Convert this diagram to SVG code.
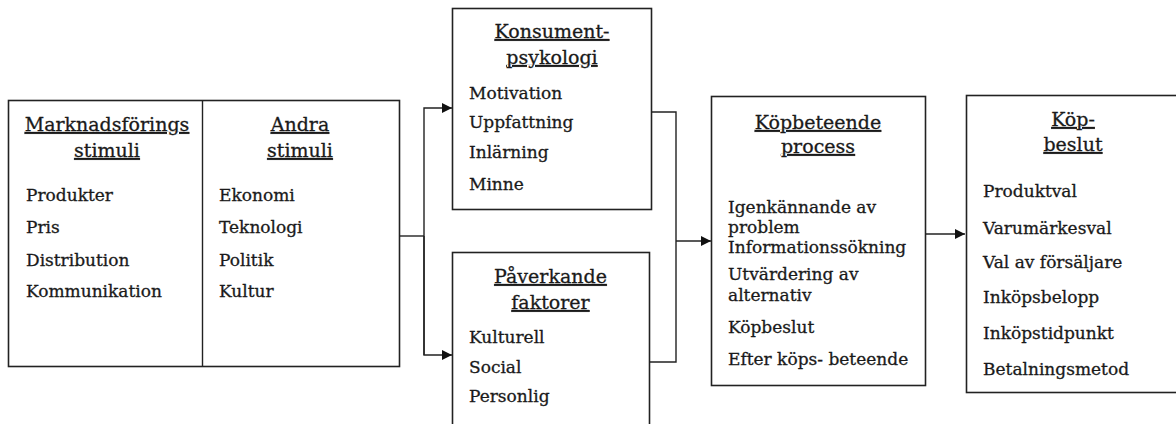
<svg xmlns="http://www.w3.org/2000/svg" width="1176" height="424" viewBox="0 0 1176 424">
<defs>
<style>
.box{fill:#fff;stroke:#222;stroke-width:1.6}
.ln{fill:none;stroke:#222;stroke-width:1.4}
text{font-family:"DejaVu Serif","Liberation Serif",serif;font-size:17px;fill:#1a1a1a;stroke:#1a1a1a;stroke-width:0.3}
.t{text-anchor:middle;text-decoration:underline;font-size:19px}
</style>
<marker id="ah" viewBox="0 0 10 10" refX="10" refY="5" markerWidth="10" markerHeight="10" markerUnits="userSpaceOnUse" orient="auto">
<path d="M0,0 L10,5 L0,10 z" fill="#111"/>
</marker>
</defs>
<rect width="1176" height="424" fill="#fff"/>
<g id="stimuli">
<rect class="box" x="8.5" y="100.5" width="391" height="266"/>
<line class="ln" x1="202.5" y1="100.5" x2="202.5" y2="366.5"/>
<text class="t" x="107" y="131">Marknadsförings</text>
<text class="t" x="107" y="157">stimuli</text>
<text x="26" y="201">Produkter</text>
<text x="26" y="233">Pris</text>
<text x="26" y="266">Distribution</text>
<text x="26" y="297">Kommunikation</text>
<text class="t" x="300" y="131">Andra</text>
<text class="t" x="300" y="157">stimuli</text>
<text x="219" y="201">Ekonomi</text>
<text x="219" y="233">Teknologi</text>
<text x="219" y="266">Politik</text>
<text x="219" y="297">Kultur</text>
</g>
<g id="konsument">
<rect class="box" x="452.5" y="8.5" width="199" height="201"/>
<text class="t" x="552" y="38">Konsument-</text>
<text class="t" x="552" y="64">psykologi</text>
<text x="469" y="99">Motivation</text>
<text x="469" y="128">Uppfattning</text>
<text x="469" y="158">Inlärning</text>
<text x="469" y="190">Minne</text>
</g>
<g id="paverkande">
<rect class="box" x="452.5" y="252.5" width="197" height="190"/>
<text class="t" x="550.5" y="283">Påverkande</text>
<text class="t" x="550.5" y="309">faktorer</text>
<text x="469" y="343">Kulturell</text>
<text x="469" y="373">Social</text>
<text x="469" y="402">Personlig</text>
</g>
<g id="process">
<rect class="box" x="711.5" y="96.5" width="214" height="289"/>
<text class="t" x="818" y="129">Köpbeteende</text>
<text class="t" x="818" y="153">process</text>
<text x="728" y="213">Igenkännande av</text>
<text x="728" y="233">problem</text>
<text x="728" y="253">Informationssökning</text>
<text x="728" y="280">Utvärdering av</text>
<text x="728" y="301">alternativ</text>
<text x="728" y="333">Köpbeslut</text>
<text x="728" y="365">Efter köps- beteende</text>
</g>
<g id="kopbeslut">
<rect class="box" x="966.5" y="95.5" width="230" height="297"/>
<text class="t" x="1073" y="126">Köp-</text>
<text class="t" x="1073" y="151">beslut</text>
<text x="983" y="197">Produktval</text>
<text x="983" y="234">Varumärkesval</text>
<text x="983" y="268">Val av försäljare</text>
<text x="983" y="303">Inköpsbelopp</text>
<text x="983" y="339">Inköpstidpunkt</text>
<text x="983" y="375">Betalningsmetod</text>
</g>
<g id="connectors">
<polyline class="ln" points="399.5,236 424,236"/>
<polyline class="ln" points="424,355 424,108 452,108" marker-end="url(#ah)"/>
<polyline class="ln" points="424,236 424,355 452,355" marker-end="url(#ah)"/>
<polyline class="ln" points="651.5,112 676,112 676,362 649.5,362"/>
<polyline class="ln" points="676,241 711,241" marker-end="url(#ah)"/>
<polyline class="ln" points="925.5,234 965,234" marker-end="url(#ah)"/>
</g>
</svg>
